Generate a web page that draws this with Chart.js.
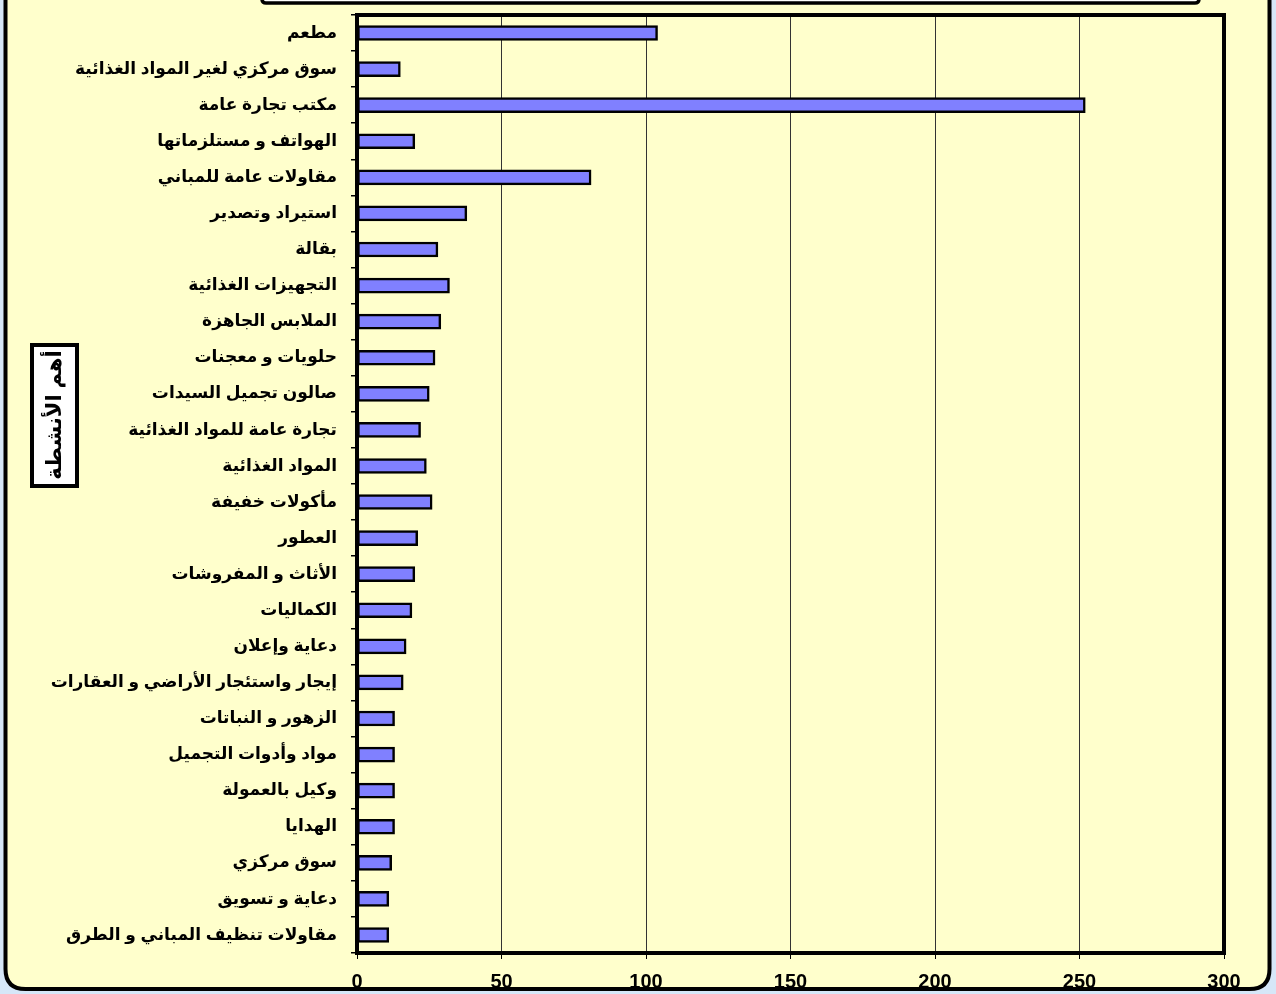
<!DOCTYPE html>
<html>
<head>
<meta charset="utf-8">
<script src="https://cdn.jsdelivr.net/npm/chart.js@4/dist/chart.umd.min.js"></script>
<style>
html,body{margin:0;padding:0;background:#d6e7f8;}
#wrap{position:relative;width:1276px;height:994px;}
canvas{display:block;}
</style>
</head>
<body>
<div id="wrap"><canvas id="c" width="1276" height="994"></canvas></div>
<script>
const categories = [
  "مطعم",
  "سوق مركزي لغير المواد الغذائية",
  "مكتب تجارة عامة",
  "الهواتف و مستلزماتها",
  "مقاولات عامة للمباني",
  "استيراد وتصدير",
  "بقالة",
  "التجهيزات الغذائية",
  "الملابس الجاهزة",
  "حلويات و معجنات",
  "صالون تجميل السيدات",
  "تجارة عامة للمواد الغذائية",
  "المواد الغذائية",
  "مأكولات خفيفة",
  "العطور",
  "الأثاث و المفروشات",
  "الكماليات",
  "دعاية وإعلان",
  "إيجار واستئجار الأراضي و العقارات",
  "الزهور و النباتات",
  "مواد وأدوات التجميل",
  "وكيل بالعمولة",
  "الهدايا",
  "سوق مركزي",
  "دعاية و تسويق",
  "مقاولات تنظيف المباني و الطرق"
];
const counts = [104, 15, 252, 20, 81, 38, 28, 32, 29, 27, 25, 22, 24, 26, 21, 20, 19, 17, 16, 13, 13, 13, 13, 12, 11, 11];
const xTicks = [0, 50, 100, 150, 200, 250, 300];
const axisTitle = "أهم الأنشطة";

const FONT = "'Liberation Sans', Arial, 'DejaVu Sans', sans-serif";

function roundRect(ctx, x, y, w, h, r) {
  ctx.beginPath();
  ctx.moveTo(x + r, y);
  ctx.lineTo(x + w - r, y);
  ctx.quadraticCurveTo(x + w, y, x + w, y + r);
  ctx.lineTo(x + w, y + h - r);
  ctx.quadraticCurveTo(x + w, y + h, x + w - r, y + h);
  ctx.lineTo(x + r, y + h);
  ctx.quadraticCurveTo(x, y + h, x, y + h - r);
  ctx.lineTo(x, y + r);
  ctx.quadraticCurveTo(x, y, x + r, y);
  ctx.closePath();
}

const framePlugin = {
  id: 'frame',
  beforeDraw(chart) {
    const ctx = chart.ctx;
    ctx.save();
    ctx.fillStyle = '#d6e7f8';
    ctx.fillRect(0, 0, chart.width, chart.height);
    roundRect(ctx, 5.5, -30, 1264, 1019, 20);
    ctx.fillStyle = '#ffffcc';
    ctx.fill();
    ctx.lineWidth = 4;
    ctx.strokeStyle = '#000';
    ctx.stroke();
    // top title box (cut off)
    roundRect(ctx, 262, -30, 937, 33, 4);
    ctx.fillStyle = '#ffffff';
    ctx.fill();
    ctx.lineWidth = 3.5;
    ctx.stroke();
    ctx.restore();
  },
  afterDatasetsDraw(chart) {
    const ctx = chart.ctx;
    const a = chart.chartArea;
    ctx.save();
    ctx.strokeStyle = '#000';
    ctx.lineWidth = 4;
    ctx.strokeRect(a.left, a.top, a.right - a.left, a.bottom - a.top);
    ctx.restore();
  },
  afterDraw(chart) {
    const ctx = chart.ctx;
    ctx.save();
    // y axis title box
    ctx.fillStyle = '#ffffff';
    ctx.fillRect(32, 345, 45, 141);
    ctx.strokeStyle = '#000';
    ctx.lineWidth = 4;
    ctx.strokeRect(32, 345, 45, 141);
    ctx.translate(55, 415);
    ctx.rotate(-Math.PI / 2);
    ctx.fillStyle = '#000';
    ctx.font = "bold 21px " + FONT;
    ctx.textAlign = 'center';
    ctx.textBaseline = 'middle';
    ctx.direction = 'rtl';
    ctx.fillText(axisTitle, 0, 0);
    ctx.restore();
  }
};

new Chart(document.getElementById('c'), {
  type: 'bar',
  data: {
    labels: categories,
    datasets: [{
      data: counts,
      backgroundColor: '#8080ff',
      borderColor: '#000000',
      borderWidth: 2.5,
      borderSkipped: false,
      barThickness: 15
    }]
  },
  options: {
    indexAxis: 'y',
    responsive: false,
    animation: false,
    devicePixelRatio: 1,
    layout: { padding: { left: 0, top: 15, right: 52, bottom: 0 } },
    plugins: {
      legend: { display: false },
      tooltip: { enabled: false },
      title: { display: false }
    },
    scales: {
      x: {
        type: 'linear',
        min: xTicks[0],
        max: xTicks[xTicks.length - 1],
        afterBuildTicks(scale) { scale.ticks = xTicks.map(v => ({ value: v })); },
        afterFit(scale) { scale.height = 41; scale.paddingLeft = 0; scale.paddingRight = 0; },
        grid: { color: '#333333', lineWidth: 1, drawTicks: true, tickLength: 6, tickColor: '#000' },
        border: { display: true, color: '#000', width: 4 },
        ticks: { color: '#000', padding: 11, font: { family: FONT, size: 20, weight: 'bold' } }
      },
      y: {
        afterFit(scale) { scale.width = 357; scale.paddingTop = 0; scale.paddingBottom = 0; },
        grid: { offset: true, drawOnChartArea: false, drawTicks: true, tickLength: 6, color: '#000', lineWidth: 1.5 },
        border: { display: true, color: '#000', width: 4 },
        ticks: { color: '#000', padding: 14, autoSkip: false, font: { family: FONT, size: 17, weight: 'bold' } }
      }
    }
  },
  plugins: [framePlugin]
});
</script>
</body>
</html>
